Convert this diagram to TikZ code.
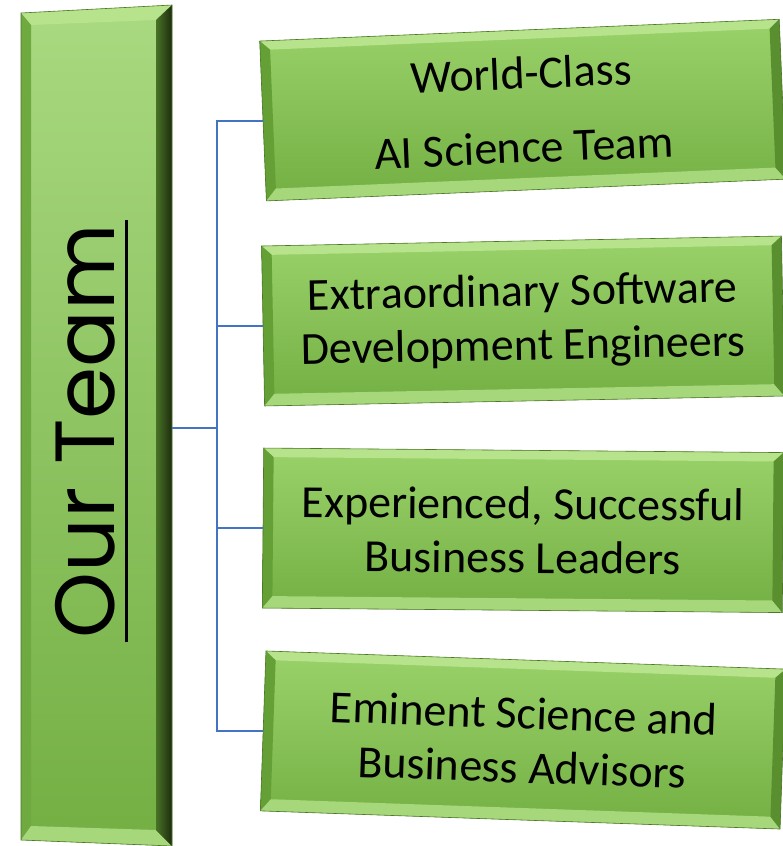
\documentclass[tikz,border=0pt]{standalone}
\usepackage{fontspec}
\setmainfont{Carlito}
\newfontfamily\titlefont{Poppins}
\definecolor{linkblue}{HTML}{4472C4}
\definecolor{bevtop}{HTML}{B6E38B}
\definecolor{bevleft}{HTML}{64A036}
\definecolor{bevbot}{HTML}{A6D77A}
\definecolor{bevright}{HTML}{5A8F30}
\definecolor{bevdark}{HTML}{1D2B0F}
\definecolor{facehi}{HTML}{9AD26A}
\definecolor{facelo}{HTML}{73AF43}
\definecolor{rimline}{HTML}{4C7628}
\tikzset{
  link/.style={draw=linkblue, line width=1.5pt},
  facebox/.style={minimum width=520pt, minimum height=160pt, inner sep=0pt,
    align=center, font=\fontsize{46}{54}\selectfont},
}
\begin{document}
\begin{tikzpicture}[x=1pt,y=-1pt]
	\useasboundingbox (0,0) rectangle (783,846);
	% left column
	\shade[top color=facehi!85!white, bottom color=facelo] (21,13) -- (172,5) -- (172,846) -- (21,840) -- cycle;
	\fill[bevtop] (21,13) -- (172,5) -- (156,20) -- (31,25) -- cycle;
	\fill[bevleft!80!facehi] (21,13) -- (31,25) -- (31,826) -- (21,840) -- cycle;
	\fill[bevbot] (21,840) -- (31,826) -- (156,830) -- (172,846) -- cycle;
	\shade[left color=bevright!80!black, right color=bevdark] (172,5) -- (172,846) -- (156,830) -- (156,20) -- cycle;
	\draw[rimline, line width=0.6pt] (21,13) -- (172,5) -- (172,846) -- (21,840) -- cycle;
	\node (team) [minimum width=151pt, minimum height=835pt, inner sep=0pt] at (96.5,425.5) {};
	\node (title) [rotate=90, inner sep=0pt, font=\titlefont\fontsize{84}{90}\selectfont] at (85,431) {Our Team};
	\draw[line width=3pt] ([xshift=11pt,yshift=-4pt]title.south west) -- ([xshift=11pt,yshift=4pt]title.south east);
	% right column
	\foreach \name/\cx/\cy/\ang/\txt in {
		ai/522.8/110.1/2.4/{World-Class\\[20pt]AI Science Team},
		dev/523/321/1.1/{Extraordinary Software\\Development Engineers},
		biz/523/530.3/-0.5/{Experienced, Successful\\Business Leaders},
		adv/523/740/-2/{Eminent Science and\\Business Advisors}} {
		\begin{scope}[shift={(\cx,\cy)}, rotate=\ang, transform shape]
			\shade[top color=facehi, bottom color=facelo] (-260,-80) rectangle (260,80);
			\fill[bevtop] (-260,-80) -- (260,-80) -- (250,-71) -- (-250,-71) -- cycle;
			\fill[bevleft] (-260,-80) -- (-250,-71) -- (-250,68) -- (-260,80) -- cycle;
			\fill[bevbot] (-260,80) -- (-250,68) -- (250,68) -- (260,80) -- cycle;
			\fill[bevright] (260,-80) -- (260,80) -- (250,68) -- (250,-71) -- cycle;
			\draw[rimline, line width=0.6pt] (-260,-80) rectangle (260,80);
			\node (\name) [facebox] at (0,0) {\txt};
		\end{scope}
	}
	% connectors
	\coordinate (hub) at (217,428);
	\draw[link] (hub -| team.east) -- (hub);
	\foreach \n in {ai,dev,biz,adv}
		\draw[link] (hub) |- (\n.west);
\end{tikzpicture}
\end{document}
